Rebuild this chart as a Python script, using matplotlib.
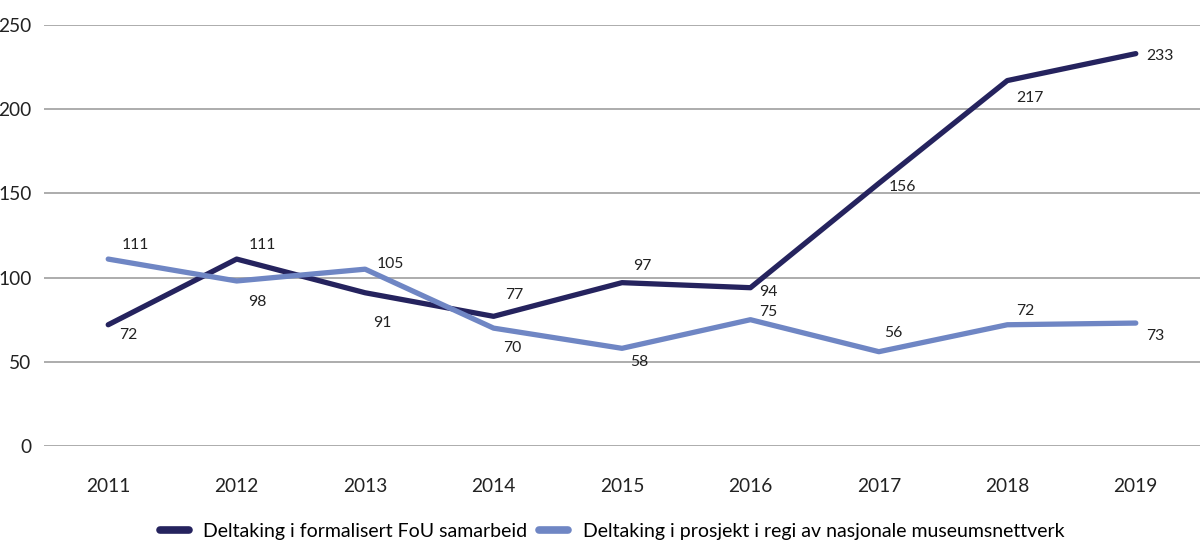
import matplotlib
matplotlib.use("Agg")
import matplotlib.pyplot as plt

#============ Data ===========

years = [2011, 2012, 2013, 2014, 2015, 2016, 2017, 2018, 2019]
fou = [72, 111, 91, 77, 97, 94, 156, 217, 233]
nettverk = [111, 98, 105, 70, 58, 75, 56, 72, 73]

fou_label = "Deltaking i formalisert FoU samarbeid"
nettverk_label = "Deltaking i prosjekt i regi av nasjonale museumsnettverk"

# label offsets in pixels (dx, dy) relative to each point
fou_offsets = [(11, -10), (12, 14), (8, -30), (12, 21), (11, 17),
               (9, -4), (10, -4), (9, -17), (10, -2)]
nettverk_offsets = [(13, 14), (11, -21), (12, 5), (10, -20), (8, -14),
                    (9, 8), (5, 19), (9, 14), (10, -13)]

dark = "#25235e"
light = "#6f86c4"

plt.rcParams['font.family'] = ['Lato', 'DejaVu Sans']

#=========== Plot ============

fig = plt.figure(figsize=(12, 5.58), dpi=100)
ax = fig.add_axes([44 / 1200, 112 / 558, 1 - 44 / 1200, 421 / 558])

ax.plot(years, fou, color=dark, lw=3.8, solid_capstyle='round',
        solid_joinstyle='round', label=fou_label, zorder=3)
ax.plot(years, nettverk, color=light, lw=3.8, solid_capstyle='round',
        solid_joinstyle='round', label=nettverk_label, zorder=3)

for x, y, off in zip(years, fou, fou_offsets):
    ax.annotate(str(y), (x, y), xytext=off, textcoords='offset pixels',
                ha='left', va='center', fontsize=11.3, color='#222222')
for x, y, off in zip(years, nettverk, nettverk_offsets):
    ax.annotate(str(y), (x, y), xytext=off, textcoords='offset pixels',
                ha='left', va='center', fontsize=11.3, color='#222222')

ax.set_xlim(2010.5, 2019.5)
ax.set_ylim(0, 250)
ax.set_yticks([0, 50, 100, 150, 200, 250])
ax.set_xticks(years)
ax.grid(axis='y', color='#a6a6a6', lw=1.3)
ax.set_axisbelow(True)
for s in ax.spines.values():
    s.set_visible(False)
ax.tick_params(axis='both', length=0, labelsize=13.8, colors='#222222')
ax.tick_params(axis='y', pad=9)
ax.tick_params(axis='x', pad=23)

leg = ax.legend(loc='center', bbox_to_anchor=(0.51, 27 / 558), bbox_transform=fig.transFigure,
                ncol=2, frameon=False, fontsize=14, handlelength=1.5,
                columnspacing=0.6, handletextpad=0.75)
for line in leg.get_lines():
    line.set_linewidth(5.5)

fig.savefig("out.png", dpi=100)
